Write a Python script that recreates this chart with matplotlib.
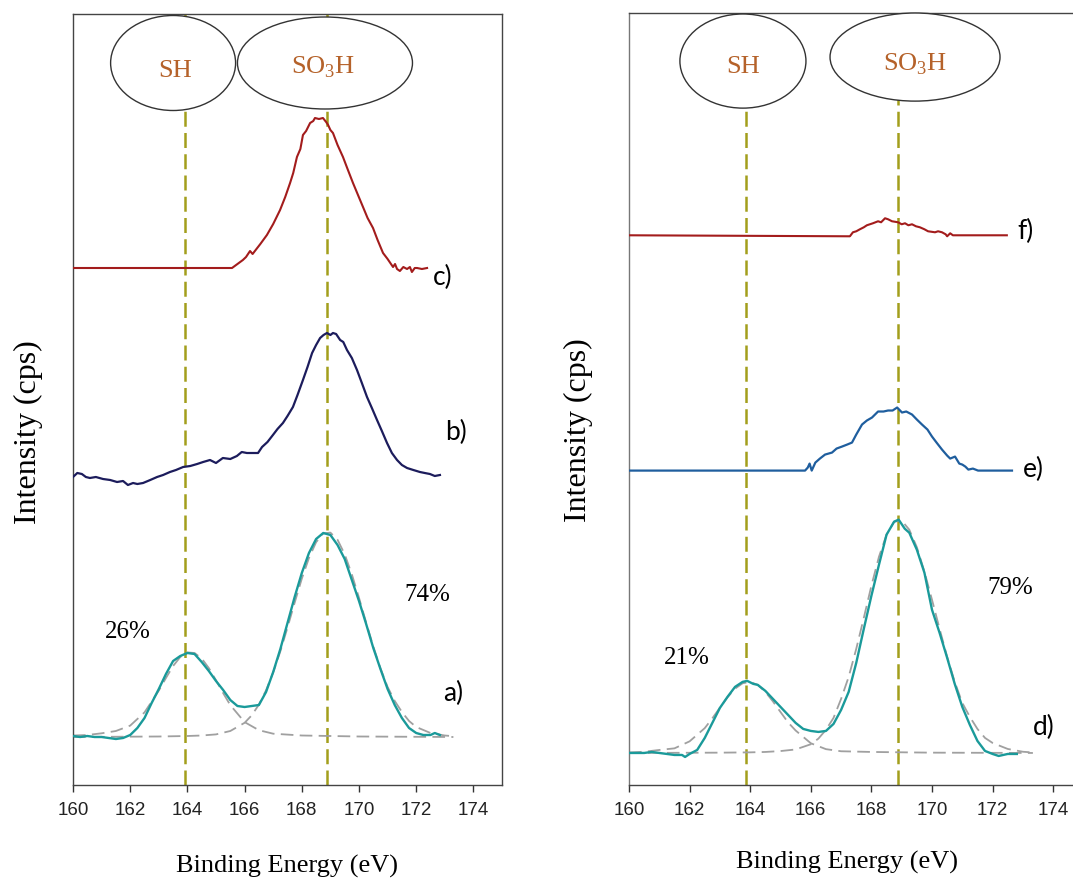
import matplotlib
matplotlib.use("Agg")
import matplotlib.pyplot as plt
from matplotlib.patches import Ellipse

# ---- data (binding energy in eV, intensity in arbitrary units) ----
# left panel
a_x = [160.0, 160.25, 160.5, 160.75, 161.0, 161.25, 161.5, 161.75, 162.0, 162.25, 162.5, 162.75,
       163.0, 163.25, 163.5, 163.75, 164.0, 164.25, 164.5, 164.75, 165.0, 165.25, 165.5, 165.75,
       166.0, 166.25, 166.5, 166.75, 167.0, 167.25, 167.5, 167.75, 168.0, 168.25, 168.5, 168.75,
       169.0, 169.25, 169.5, 169.75, 170.0, 170.25, 170.5, 170.75, 171.0, 171.25, 171.5, 171.75,
       172.0, 172.25, 172.5, 172.65, 172.83]
a_y = [49, 48, 49, 48, 48, 47, 46, 47, 50, 57, 67, 82,
       96, 111, 124, 129, 132, 131, 123, 114, 104, 95, 85, 79,
       78, 79, 80, 93, 113, 136, 162, 188, 212, 232, 246, 252,
       250, 240, 226, 205, 184, 161, 137, 116, 96, 80, 67, 57,
       52, 50, 50, 52, 50]

fit_sh_a_x = [160.0, 160.5, 161.0, 161.5, 162.0, 162.5, 163.0, 163.25, 163.5, 163.75, 164.0,
              164.25, 164.5, 164.75, 165.0, 165.25, 165.5, 166.0, 166.5, 167.0, 168.0, 170.0, 173.3]
fit_sh_a_y = [49.5, 50, 51.7, 54, 59.4, 72.6, 94.4, 107, 119, 128, 132.6,
              132, 126.5, 116.9, 104.7, 91.9, 79.9, 62.9, 54.8, 51.3, 49.5, 48.5, 48]

fit_so_a_x = [160.0, 163.0, 164.0, 164.5, 165.0, 165.5, 166.0, 166.25, 166.5, 166.75, 167.0,
              167.25, 167.5, 167.75, 168.0, 168.25, 168.5, 168.75, 169.0, 169.25, 169.5, 169.75,
              170.0, 170.25, 170.5, 170.75, 171.0, 171.25, 171.5, 171.75, 172.0, 172.5, 173.0, 173.3]
fit_so_a_y = [48, 48.5, 49, 49.5, 50.6, 54, 62.2, 69.7, 80.4, 94.7, 112.6,
              133.7, 157.5, 182.3, 206.3, 227, 242.8, 251.6, 252.4, 245.2, 230.7, 210.6,
              187.2, 162.4, 138.4, 116.7, 98, 84, 73, 64, 58, 52, 49.5, 48.8]

b_x = [160.0, 160.15, 160.31, 160.45, 160.59, 160.8, 161.05, 161.3, 161.54, 161.75, 161.92, 162.1,
       162.25, 162.45, 162.7, 162.94, 163.15, 163.39, 163.6, 163.85, 164.1, 164.34, 164.55, 164.79,
       165.0, 165.24, 165.5, 165.73, 165.9, 166.08, 166.3, 166.47, 166.61, 166.8, 166.99, 167.15,
       167.34, 167.5, 167.69, 167.85, 168.04, 168.2, 168.36, 168.5, 168.64, 168.76, 168.88, 169.0,
       169.09, 169.2, 169.34, 169.45, 169.58, 169.75, 169.93, 170.1, 170.28, 170.45, 170.63, 170.8,
       170.98, 171.15, 171.33, 171.5, 171.68, 171.9, 172.13, 172.3, 172.48, 172.65, 172.83]
b_y = [308, 312, 311, 308, 307, 308, 306, 305, 303, 304, 300, 302,
       301, 302, 305, 308, 310, 313, 315, 318, 319, 321, 323, 325,
       322, 327, 326, 329, 333, 332, 332, 332, 338, 343, 350, 356,
       362, 369, 378, 390, 405, 418, 432, 440, 447, 450, 452, 450,
       452, 451, 445, 443, 435, 427, 415, 402, 388, 377, 365, 354,
       342, 332, 325, 320, 317, 315, 313, 312, 311, 309, 310]

c_x = [160.0, 165.56, 165.75, 165.94, 166.05, 166.19, 166.28, 166.36, 166.55, 166.78, 167.0,
       167.24, 167.42, 167.59, 167.7, 167.83, 167.95, 168.04, 168.15, 168.29, 168.4, 168.46,
       168.6, 168.74, 168.85, 168.92, 169.0, 169.09, 169.25, 169.44, 169.6, 169.79, 169.95,
       170.14, 170.3, 170.49, 170.65, 170.84, 171.0, 171.19, 171.26, 171.33, 171.43, 171.55,
       171.68, 171.78, 171.85, 171.95, 172.03, 172.2, 172.38]
c_y = [517, 517, 521, 525, 528, 534, 531, 534, 541, 550, 561,
       575, 588, 602, 612, 628, 636, 650, 654, 662, 664, 667,
       666, 667, 663, 660, 655, 652, 640, 628, 616, 602, 591,
       578, 567, 557, 545, 532, 526, 518, 521, 516, 514, 518,
       516, 518, 513, 517, 517, 516, 517]

# right panel
d_x = [160.0, 160.5, 160.75, 161.0, 161.25, 161.5, 161.75, 161.85, 162.0, 162.25, 162.5, 162.75,
       163.0, 163.25, 163.5, 163.75, 163.9, 164.1, 164.25, 164.5, 164.75, 165.0, 165.25, 165.5,
       165.75, 166.0, 166.25, 166.5, 166.75, 167.0, 167.25, 167.5, 167.75, 168.0, 168.25, 168.5,
       168.75, 168.9, 169.1, 169.25, 169.5, 169.75, 170.0, 170.25, 170.5, 170.75, 171.0, 171.25,
       171.5, 171.75, 172.0, 172.2, 172.5, 172.8]
d_y = [32, 32, 33, 32, 31, 30, 30, 28, 31, 35, 47, 62,
       77, 88, 98, 103, 104, 101, 100, 94, 86, 78, 70, 62,
       56, 54, 53, 54, 61, 75, 93, 122, 156, 189, 220, 250,
       263, 265, 256, 252, 235, 212, 175, 152, 127, 101, 78, 60,
       44, 34, 31, 29, 31, 31]

fit_sh_d_x = [160.0, 160.5, 161.0, 161.5, 162.0, 162.5, 162.75, 163.0, 163.25, 163.5, 163.75, 164.0,
              164.25, 164.5, 164.75, 165.0, 165.25, 165.5, 166.0, 166.5, 167.0, 168.0, 170.0, 173.33]
fit_sh_d_y = [32.5, 33.2, 35, 36.6, 43.6, 56.8, 66.6, 77.2, 87.6, 96.2, 101.6, 103,
              99.9, 93, 83.5, 72.9, 62.5, 54.4, 41.7, 35.8, 33.7, 33, 32.3, 32]

fit_so_d_x = [160.0, 163.0, 164.0, 164.5, 165.0, 165.5, 166.0, 166.25, 166.5, 166.75, 167.0,
              167.25, 167.5, 167.75, 168.0, 168.25, 168.5, 168.75, 169.0, 169.25, 169.5, 169.75,
              170.0, 170.25, 170.5, 170.75, 171.0, 171.25, 171.5, 171.75, 172.0, 172.5, 173.0, 173.33]
fit_so_d_y = [32, 32.3, 32.6, 33, 33.9, 35.5, 40.7, 46.3, 55.1, 67, 86,
              108, 136, 167, 199, 228, 250, 263, 264, 255, 237.5, 213,
              185, 156, 128, 103, 82, 68, 56, 47, 42, 36, 33.2, 32.5]

e_x = [160.0, 165.81, 165.9, 165.96, 166.03, 166.15, 166.3, 166.47, 166.7, 166.85, 167.03, 167.2,
       167.36, 167.5, 167.69, 167.85, 168.02, 168.22, 168.4, 168.55, 168.7, 168.85, 169.01, 169.15,
       169.34, 169.5, 169.67, 169.85, 170.0, 170.15, 170.33, 170.5, 170.6, 170.76, 170.9, 171.0,
       171.1, 171.2, 171.35, 171.52, 172.64]
e_y = [314, 314, 317, 321, 314, 322, 326, 330, 332, 336, 338, 340,
       342, 350, 360, 364, 367, 373, 373, 374, 374, 377, 372, 373,
       370, 365, 360, 355, 348, 342, 335, 329, 326, 328, 321, 320,
       318, 315, 316, 314, 314]

f_x = [160.0, 167.29, 167.39, 167.5, 167.62, 167.75, 167.85, 168.05, 168.22, 168.32, 168.45,
       168.55, 168.68, 168.88, 169.0, 169.11, 169.22, 169.34, 169.47, 169.6, 169.75, 169.87,
       170.1, 170.2, 170.33, 170.45, 170.5, 170.6, 170.69, 172.47]
f_y = [549, 548, 552, 553, 555, 557, 559, 561, 563, 562, 566,
       565, 563, 562, 560, 561, 559, 560, 558, 557, 555, 553,
       552, 553, 552, 550, 548, 551, 549, 549]

sh_pos = [163.92, 163.87]
so_pos = [168.88, 168.88]
percents = [("26%", "74%"), ("21%", "79%")]
xticks = [160, 162, 164, 166, 168, 170, 172, 174]

# ---- style ----
red = "#a31c1c"
navy = "#1c1c5c"
blue = "#1f5e9e"
teal = "#1a9a9a"
grey = "#a0a0a0"
olive = "#a39e1c"
brown = "#b5622a"
serif = "Liberation Serif"
sans = "Liberation Sans"
lab_font = "Lato"

plt.rcParams["mathtext.fontset"] = "custom"
plt.rcParams["mathtext.rm"] = serif

fig = plt.figure(figsize=(10.73, 8.81), dpi=100)
axL = fig.add_axes([73 / 1073, 96 / 881, 429 / 1073, 771 / 881])
axR = fig.add_axes([629 / 1073, 96 / 881, 454.5 / 1073, 772 / 881])

for ax in (axL, axR):
    ax.set_xlim(160, 175)
    ax.set_ylim(0, 771)
    ax.set_yticks([])
    ax.set_xticks(xticks)
    ax.set_xticklabels([str(t) for t in xticks], fontfamily=sans, fontsize=13.5, color="#222222")
    ax.tick_params(axis="x", direction="out", length=5, width=1, pad=7, color="#333333")
    for s in ax.spines.values():
        s.set_color("#444444")
        s.set_linewidth(1.0)
axR.spines["left"].set_color("#777777")

dash_olive = dict(color=olive, lw=1.8, dashes=(6, 2.5), zorder=1)
dash_grey = dict(color=grey, lw=1.3, dashes=(7, 3.5), zorder=2)

# left panel
axL.axvline(sh_pos[0], **dash_olive)
axL.axvline(so_pos[0], **dash_olive)
axL.plot(fit_sh_a_x, fit_sh_a_y, **dash_grey)
axL.plot(fit_so_a_x, fit_so_a_y, **dash_grey)
axL.plot(a_x, a_y, color=teal, lw=1.7, zorder=3)
axL.plot(b_x, b_y, color=navy, lw=1.6, zorder=3)
axL.plot(c_x, c_y, color=red, lw=1.5, zorder=3)

# right panel
axR.axvline(sh_pos[1], **dash_olive)
axR.axvline(so_pos[1], **dash_olive)
axR.plot(fit_sh_d_x, fit_sh_d_y, **dash_grey)
axR.plot(fit_so_d_x, fit_so_d_y, **dash_grey)
axR.plot(d_x, d_y, color=teal, lw=1.7, zorder=3)
axR.plot(e_x, e_y, color=blue, lw=1.6, zorder=3)
axR.plot(f_x, f_y, color=red, lw=1.5, zorder=3)

# ellipses with group labels
ell = [
    (axL, (163.5, 722), 4.37, 95, "SH", (163.57, 714)),
    (axL, (168.81, 722), 6.12, 92, r"SO$_3$H", (168.74, 718)),
    (axR, (163.76, 723), 4.16, 94, "SH", (163.76, 717)),
    (axR, (169.44, 727), 5.61, 88, r"SO$_3$H", (169.44, 720)),
]
for ax, c, w, h, txt, tp in ell:
    ax.add_patch(Ellipse(c, w, h, facecolor="white", edgecolor="#333333", lw=1.0,
                         zorder=5, clip_on=False))
    ax.text(tp[0], tp[1], txt, fontfamily=serif, fontsize=19, color=brown,
            ha="center", va="center", zorder=6)

# percentages
axL.text(161.92, 153, percents[0][0], fontfamily=serif, fontsize=18, ha="center", va="center")
axL.text(172.38, 190, percents[0][1], fontfamily=serif, fontsize=18, ha="center", va="center")
axR.text(161.91, 127, percents[1][0], fontfamily=serif, fontsize=18, ha="center", va="center")
axR.text(172.57, 197, percents[1][1], fontfamily=serif, fontsize=18, ha="center", va="center")

# curve labels
for ax, x, y, t in [(axL, 172.94, 92, "a)"), (axL, 173.0, 353, "b)"), (axL, 172.59, 508, "c)"),
                    (axR, 173.33, 57, "d)"), (axR, 173.0, 315, "e)"), (axR, 172.83, 553, "f)")]:
    ax.text(x, y, t, fontfamily=lab_font, fontsize=19, ha="left", va="center", zorder=4)

# axis titles
fig.text(28 / 1073, 1 - 432 / 881, "Intensity (cps)", rotation=90, fontfamily=serif,
         fontsize=23, ha="center", va="center")
fig.text(578 / 1073, 1 - 430 / 881, "Intensity (cps)", rotation=90, fontfamily=serif,
         fontsize=23, ha="center", va="center")
fig.text(287 / 1073, 1 - 866 / 881, "Binding Energy (eV)", fontfamily=serif, fontsize=19,
         ha="center", va="center")
fig.text(847 / 1073, 1 - 862 / 881, "Binding Energy (eV)", fontfamily=serif, fontsize=19,
         ha="center", va="center")

fig.savefig("out.png", dpi=100)
